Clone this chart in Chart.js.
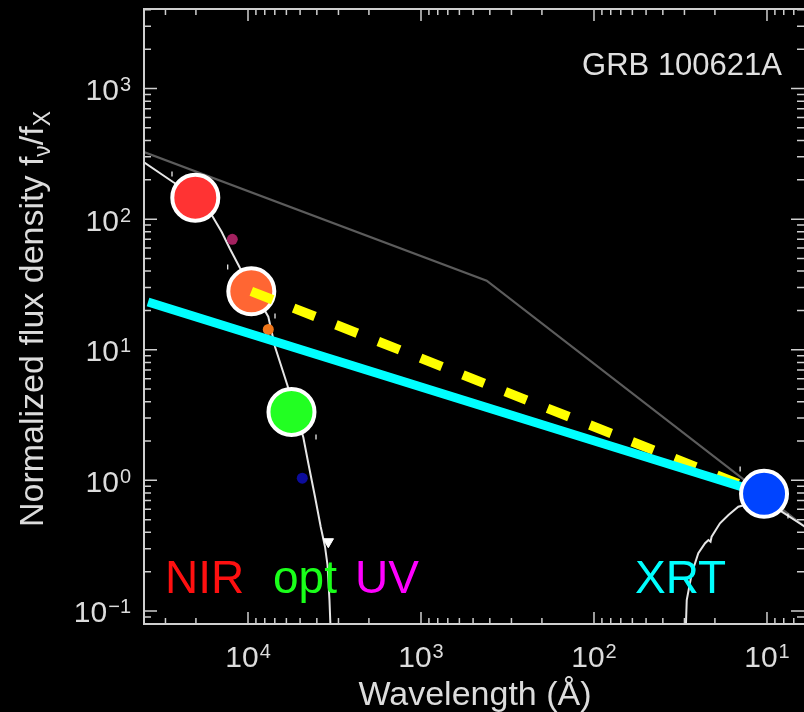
<!DOCTYPE html>
<html>
<head>
<meta charset="utf-8">
<script src="https://cdn.jsdelivr.net/npm/chart.js@4/dist/chart.umd.min.js"></script>
<style>
  html, body { margin: 0; padding: 0; background: #000; }
  #chart { display: block; }
</style>
</head>
<body>
<canvas id="chart" width="804" height="712"></canvas>
<script>
// GRB 100621A spectral energy distribution, flux normalised to the X-ray band

// axis ranges (wavelength in Angstrom, drawn reversed)
const waveMax = 39920;
const waveMin = 6.11;
const fluxMin = 0.0795;
const fluxMax = 4062;

const xTickExps = [4, 3, 2, 1];
const yTickExps = [3, 2, 1, 0, -1];

// big photometric points (NIR / optical)
const photWave = [20170, 9570, 5606];
const photFlux = [145.9, 28.0, 3.34];
const photColors = ['#ff3333', '#ff6633', '#22ff22'];

// XRT point
const xrtWave = [10.4];
const xrtFlux = [0.789];

// small points
const smallWave = [12326, 7632, 4855];
const smallFlux = [70.1, 14.3, 1.04];
const smallColors = ['#a3215f', '#f0761a', '#0c0c9c'];

// tiny error marks
const errWave = [27500, 13100, 6981, 4045, 14.3, 7.56];
const errFlux = [221.6, 43.0, 18.1, 2.15, 1.22, 0.534];

// upper limit
const limitWave = [3434];
const limitFlux = [0.339];

// absorbed model, optical side
const optModelWave = [39920, 27140, 20250, 16210, 14190, 12700, 11125, 9357, 7632, 6981, 5950, 4790, 4481, 4100, 3800, 3588, 3471, 3381, 3314];
const optModelFlux = [272, 192.4, 150.3, 107.6, 79.7, 59.1, 42.3, 28.7, 17.9, 10.55, 5.47, 2.14, 1.351, 0.750, 0.442, 0.3106, 0.2250, 0.1214, 0.06];

// absorbed model, X-ray side
const xrtModelWave = [29.6, 29.1, 27.2, 24.95, 22.8, 21.8, 21.2, 20.9, 18.7, 16.7, 14.65, 10.4, 8.22, 5.64];
const xrtModelFlux = [0.06, 0.1214, 0.1943, 0.2764, 0.330, 0.3496, 0.3393, 0.3705, 0.469, 0.543, 0.629, 0.707, 0.576, 0.417];

// unabsorbed broken power law
const brokenWave = [39920, 417.2, 4.94];
const brokenFlux = [326.5, 33.8, 0.3596];

// single power law through X-rays (cyan)
const cyanWave = [37845, 10.4];
const cyanFlux = [23.2, 0.789];

// optical-to-X-ray slope (yellow dashed)
const yellowWave = [9570, 10.4];
const yellowFlux = [28.0, 0.789];

const font = '"Liberation Sans", Arial, Helvetica, sans-serif';
const textColor = '#dcdcdc';

function pts(xs, ys) {
    return xs.map((x, i) => ({ x: x, y: ys[i] }));
}

function drawPow(ctx, exp, xPos, yBase, align) {
    const base = '10';
    const sup = exp < 0 ? '\u2212' + (-exp) : String(exp);
    ctx.font = '30px ' + font;
    const wb = ctx.measureText(base).width;
    ctx.font = '20px ' + font;
    const ws = ctx.measureText(sup).width;
    const left = align === 'right' ? xPos - wb - ws - 1 : xPos - (wb + ws + 1) / 2;
    ctx.font = '30px ' + font;
    ctx.fillText(base, left, yBase);
    ctx.font = '20px ' + font;
    ctx.fillText(sup, left + wb + 1, yBase - 9);
}

const decorPlugin = {
    id: 'decor',
    afterDatasetsDraw(chart) {
        const { ctx, chartArea: a, scales: { x, y } } = chart;
        ctx.save();

        // frame (right side falls off the picture)
        ctx.strokeStyle = '#cfcfcf';
        ctx.lineWidth = 2;
        ctx.beginPath();
        ctx.moveTo(a.right, a.top);
        ctx.lineTo(a.left, a.top);
        ctx.lineTo(a.left, a.bottom);
        ctx.lineTo(a.right, a.bottom);
        ctx.stroke();

        // inward ticks on all four sides
        ctx.lineWidth = 1.5;
        ctx.beginPath();
        for (let e = 0; e <= 4; e++) {
            for (let m = 1; m <= 9; m++) {
                const v = m * Math.pow(10, e);
                if (v < waveMin || v > waveMax) continue;
                const px = x.getPixelForValue(v);
                const len = m === 1 ? 12 : 6;
                ctx.moveTo(px, a.bottom); ctx.lineTo(px, a.bottom - len);
                ctx.moveTo(px, a.top); ctx.lineTo(px, a.top + len);
            }
        }
        for (let e = -2; e <= 3; e++) {
            for (let m = 1; m <= 9; m++) {
                const v = m * Math.pow(10, e);
                if (v < fluxMin || v > fluxMax) continue;
                const py = y.getPixelForValue(v);
                const len = m === 1 ? 13 : 7;
                ctx.moveTo(a.left, py); ctx.lineTo(a.left + len, py);
                ctx.moveTo(a.right, py); ctx.lineTo(a.right - len, py);
            }
        }
        ctx.stroke();

        // tick labels
        ctx.fillStyle = textColor;
        ctx.textAlign = 'left';
        ctx.textBaseline = 'alphabetic';
        xTickExps.forEach(e => drawPow(ctx, e, x.getPixelForValue(Math.pow(10, e)), a.bottom + 43, 'center'));
        yTickExps.forEach(e => drawPow(ctx, e, 131, y.getPixelForValue(Math.pow(10, e)) + 11.5, 'right'));

        // x title
        ctx.font = '34px ' + font;
        ctx.textAlign = 'center';
        ctx.fillText('Wavelength (\u00c5)', 475, 705);

        // y title, rotated
        ctx.save();
        ctx.translate(43, 527);
        ctx.rotate(-Math.PI / 2);
        ctx.textAlign = 'left';
        let cx = 0;
        const parts = [
            ['Normalized flux density f', 34, 0],
            ['\u03bd', 23, 7],
            ['/f', 34, 0],
            ['X', 23, 7]
        ];
        parts.forEach(([t, size, dy]) => {
            ctx.font = size + 'px ' + font;
            ctx.fillText(t, cx, dy);
            cx += ctx.measureText(t).width;
        });
        ctx.restore();

        // burst name
        ctx.font = '31px ' + font;
        ctx.textAlign = 'right';
        ctx.fillStyle = '#e0e0e0';
        ctx.fillText('GRB 100621A', 782, 75);

        // band labels
        ctx.font = '46px ' + font;
        ctx.textAlign = 'left';
        ctx.fillStyle = '#ff1010';
        ctx.fillText('NIR', 165, 593);
        ctx.fillStyle = '#1aff1a';
        ctx.fillText('opt', 273, 593);
        ctx.fillStyle = '#ff00ff';
        ctx.fillText('UV', 355, 593);
        ctx.fillStyle = '#00ffff';
        ctx.fillText('XRT', 635, 593);

        ctx.restore();
    }
};

new Chart(document.getElementById('chart'), {
    type: 'scatter',
    data: {
        datasets: [
            {
                data: pts(brokenWave, brokenFlux),
                showLine: true, borderColor: '#5c5c5c', borderWidth: 2.2, pointRadius: 0, order: 10
            },
            {
                data: pts(optModelWave, optModelFlux),
                showLine: true, borderColor: '#e6e6e6', borderWidth: 2, pointRadius: 0, order: 9
            },
            {
                data: pts(xrtModelWave, xrtModelFlux),
                showLine: true, borderColor: '#e6e6e6', borderWidth: 2, pointRadius: 0, order: 9
            },
            {
                data: pts(smallWave, smallFlux),
                pointRadius: 5.5, pointBorderWidth: 0, pointBackgroundColor: smallColors, order: 8
            },
            {
                data: pts(errWave, errFlux),
                pointStyle: 'line', rotation: 90, pointRadius: 2.5,
                pointBorderColor: '#ffffff', pointBorderWidth: 1.2, order: 8
            },
            {
                data: pts(limitWave, limitFlux),
                pointStyle: 'triangle', rotation: 180, pointRadius: 6,
                pointBackgroundColor: '#ffffff', pointBorderColor: '#ffffff', pointBorderWidth: 1, order: 8
            },
            {
                data: pts(photWave, photFlux),
                pointRadius: 23, pointBorderWidth: 4, pointBorderColor: '#ffffff',
                pointBackgroundColor: photColors, order: 6
            },
            {
                data: pts(yellowWave, yellowFlux),
                showLine: true, borderColor: '#ffff00', borderWidth: 9.5, borderDash: [23, 22.5],
                borderCapStyle: 'butt', pointRadius: 0, order: 5
            },
            {
                data: pts(cyanWave, cyanFlux),
                showLine: true, borderColor: '#00ffff', borderWidth: 9, pointRadius: 0, order: 4
            },
            {
                data: pts(xrtWave, xrtFlux),
                pointRadius: 23, pointBorderWidth: 4, pointBorderColor: '#ffffff',
                pointBackgroundColor: '#0044ff', order: 3
            }
        ]
    },
    options: {
        responsive: false,
        animation: false,
        layout: { autoPadding: false, padding: { left: 144, top: 9, right: 0, bottom: 88 } },
        plugins: { legend: { display: false }, tooltip: { enabled: false } },
        scales: {
            x: { type: 'logarithmic', reverse: true, min: waveMin, max: waveMax, display: false },
            y: { type: 'logarithmic', min: fluxMin, max: fluxMax, display: false }
        }
    },
    plugins: [decorPlugin]
});
</script>
</body>
</html>
